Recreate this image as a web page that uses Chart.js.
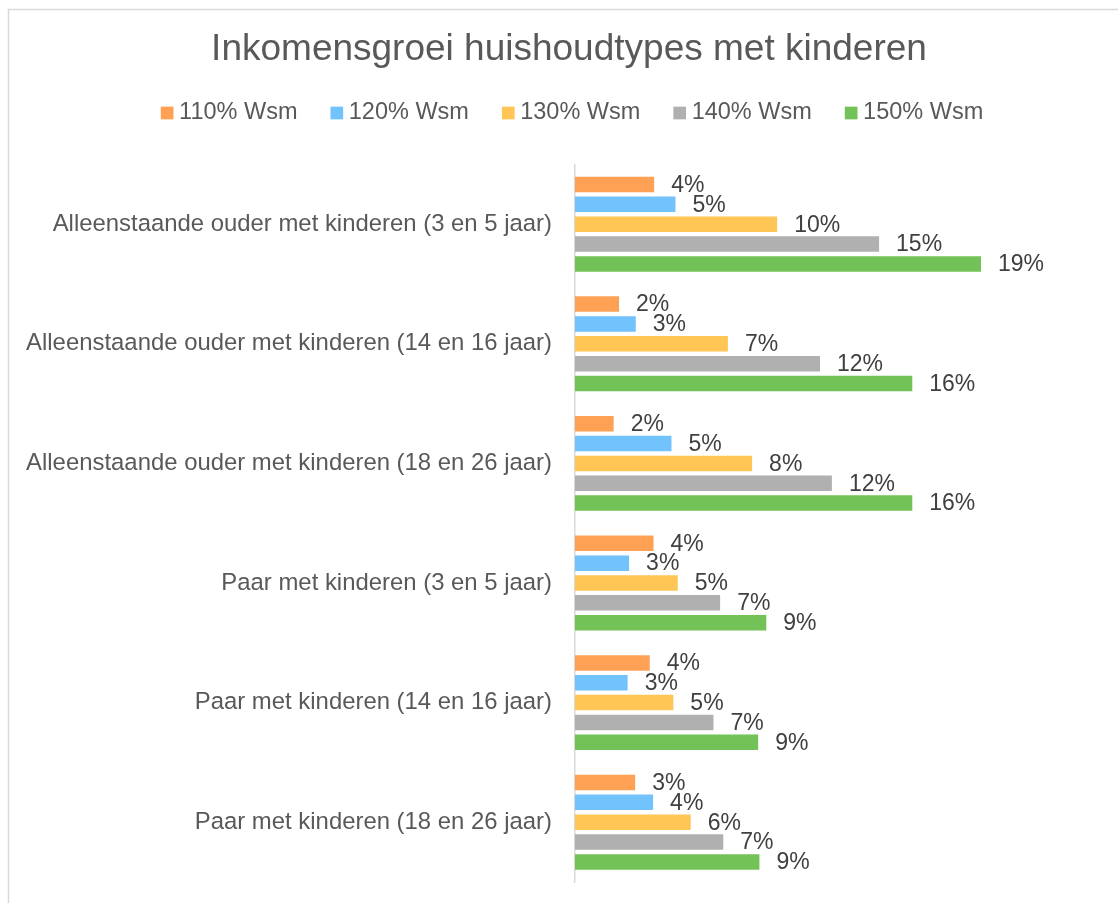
<!DOCTYPE html>
<html>
<head>
<meta charset="utf-8">
<script src="https://cdn.jsdelivr.net/npm/chart.js@4/dist/chart.umd.min.js"></script>
<style>
  html, body { margin: 0; padding: 0; background: #ffffff; overflow: hidden; }
  #wrap { position: relative; width: 1118px; height: 903px; }
</style>
</head>
<body>
<div id="wrap"><canvas id="c" width="1118" height="903"></canvas></div>
<script>
// ---- Data ----
const chartTitle = 'Inkomensgroei huishoudtypes met kinderen';
const categories = [
  'Alleenstaande ouder met kinderen (3 en 5 jaar)',
  'Alleenstaande ouder met kinderen (14 en 16 jaar)',
  'Alleenstaande ouder met kinderen (18 en 26 jaar)',
  'Paar met kinderen (3 en 5 jaar)',
  'Paar met kinderen (14 en 16 jaar)',
  'Paar met kinderen (18 en 26 jaar)'
];
const seriesNames = ['110% Wsm', '120% Wsm', '130% Wsm', '140% Wsm', '150% Wsm'];
const wsm110 = [3.79, 2.11, 1.85, 3.76, 3.58, 2.88];
const wsm120 = [4.81, 2.91, 4.62, 2.59, 2.52, 3.74];
const wsm130 = [9.68, 7.32, 8.48, 4.92, 4.71, 5.54];
const wsm140 = [14.56, 11.73, 12.30, 6.95, 6.63, 7.10];
const wsm150 = [19.44, 16.15, 16.15, 9.16, 8.77, 8.83];
const seriesColors = ['#FFA154', '#72C2FB', '#FFC555', '#B0B0B0', '#72C257'];

const FONT = '"Liberation Sans", Arial, Helvetica, sans-serif';
const seriesValues = [wsm110, wsm120, wsm130, wsm140, wsm150];

const datasets = seriesNames.map((name, i) => ({
  label: name,
  data: seriesValues[i],
  backgroundColor: seriesColors[i],
  borderWidth: 0,
  categoryPercentage: 0.83,
  barPercentage: 0.78
}));

// Chart border (Excel chart area frame)
const framePlugin = {
  id: 'frame',
  beforeDraw(chart) {
    const ctx = chart.ctx;
    ctx.save();
    ctx.strokeStyle = '#D9D9D9';
    ctx.lineWidth = 1.5;
    ctx.beginPath();
    ctx.moveTo(8.5, 903);
    ctx.lineTo(8.5, 9.5);
    ctx.lineTo(1118, 9.5);
    ctx.stroke();
    ctx.restore();
  }
};

// Legend drawn in Excel style (small square, tight gap)
const legendPlugin = {
  id: 'xlLegend',
  afterDraw(chart) {
    const ctx = chart.ctx;
    ctx.save();
    ctx.font = '23.5px ' + FONT;
    const box = 12.7, gapBoxText = 5.6, gapItems = 33;
    const widths = seriesNames.map(n => box + gapBoxText + ctx.measureText(n).width);
    const total = widths.reduce((a, b) => a + b, 0) + gapItems * (seriesNames.length - 1);
    let x = 572 - total / 2;
    const cy = 112.5;
    seriesNames.forEach((n, i) => {
      ctx.fillStyle = seriesColors[i];
      ctx.fillRect(x, cy - box / 2 + 0.5, box, box);
      ctx.fillStyle = '#595959';
      ctx.textAlign = 'left';
      ctx.textBaseline = 'middle';
      ctx.fillText(n, x + box + gapBoxText, cy);
      x += widths[i] + gapItems;
    });
    ctx.restore();
  }
};

// Data labels at outside end
const labelPlugin = {
  id: 'valueLabels',
  afterDatasetsDraw(chart) {
    const ctx = chart.ctx;
    ctx.save();
    ctx.font = '23px ' + FONT;
    ctx.fillStyle = '#404040';
    ctx.textAlign = 'left';
    ctx.textBaseline = 'middle';
    chart.data.datasets.forEach((ds, di) => {
      const meta = chart.getDatasetMeta(di);
      meta.data.forEach((el, i) => {
        const v = ds.data[i];
        ctx.fillText(Math.round(v) + '%', el.x + 17, el.y + 1);
      });
    });
    ctx.restore();
  }
};

new Chart(document.getElementById('c'), {
  type: 'bar',
  data: { labels: categories, datasets },
  options: {
    indexAxis: 'y',
    responsive: false,
    animation: false,
    layout: { padding: { top: 10, left: 20, right: 0, bottom: 21 } },
    plugins: {
      legend: { display: false },
      tooltip: { enabled: false },
      title: {
        display: true,
        text: chartTitle,
        color: '#595959',
        font: { family: FONT, size: 37, weight: 'normal', lineHeight: 1.2 },
        padding: { top: 18, bottom: 92 }
      }
    },
    scales: {
      x: {
        display: false,
        min: 0,
        max: 26
      },
      y: {
        afterFit(scale) {
          scale.width = 555;
          scale.paddingTop = 0;
          scale.paddingBottom = 0;
        },
        grid: { display: false, drawTicks: false },
        border: { display: true, color: '#D9D9D9', width: 1.5 },
        ticks: {
          color: '#595959',
          padding: 23,
          font: { family: FONT, size: 23.9 }
        }
      }
    }
  },
  plugins: [framePlugin, legendPlugin, labelPlugin]
});
</script>
</body>
</html>
